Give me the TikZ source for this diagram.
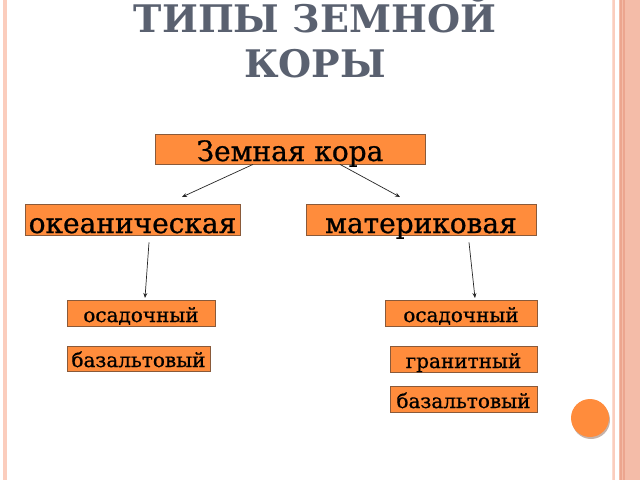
\documentclass[tikz,border=0pt]{standalone}
\usepackage{fontspec}
\setmainfont{DejaVu Serif}
\newfontfamily\boxfont{DejaVu Serif}[FakeBold=0.8]
\usetikzlibrary{arrows.meta}
\definecolor{boxfill}{HTML}{FF8C3C}
\definecolor{boxline}{HTML}{8A5A3A}
\definecolor{titlecol}{HTML}{5A6170}
\definecolor{bandlight}{HTML}{FBCDBD}
\definecolor{bandmid}{HTML}{F4BCA8}
\definecolor{banddark}{HTML}{ECA58E}
\definecolor{linepale}{HTML}{FCDCD0}
\definecolor{shadowcol}{HTML}{A08070}
\begin{document}
\begin{tikzpicture}[x=1pt,y=-1pt,
  box/.style={draw=boxline, line width=0.8pt, fill=boxfill, inner xsep=0pt, inner ysep=0pt, anchor=base, text=black},
  bigtext/.style={font=\boxfont\fontsize{28}{30}\selectfont, text height=29pt, text depth=2pt},
  smalltext/.style={font=\boxfont\fontsize{20}{22}\selectfont, text height=22pt, text depth=4pt},
  arr/.style={-{Stealth[length=5pt,width=4pt]}, line width=0.7pt, draw=black!85},
  titletext/.style={font=\fontsize{38}{40}\selectfont\bfseries, text=titlecol, anchor=base, inner sep=0pt}]
\useasboundingbox (0,0) rectangle (640,480);
\fill[white] (0,0) rectangle (640,480);
% frame
\fill[bandlight] (3,0) rectangle (7,480);
\fill[linepale] (611.7,0) rectangle (612.7,480);
\fill[bandlight] (613.3,0) rectangle (615,480);
\fill[bandmid] (618.5,0) rectangle (640,480);
\fill[banddark] (620,0) rectangle (621.5,480);
\fill[banddark] (623,0) rectangle (625,480);
% decorative circle
\fill[shadowcol, opacity=0.6] (591,420) circle (19);
\fill[boxfill] (590,418) circle (19);
% title
\node[titletext] (t1) at (315,32) {ТИПЫ ЗЕМНОЙ};
\node[titletext] (t2) at (315,77) {КОРЫ};
% boxes
\node[box, bigtext, text height=27pt, text depth=3pt, minimum width=270pt] (root) at (290,161) {Земная кора};
\node[box, bigtext, minimum width=215pt] (ocean) at (132.5,233) {океаническая};
\node[box, bigtext, minimum width=230pt] (cont) at (421,233) {материковая};
\node[box, smalltext, minimum width=148pt] (o1) at (141,322) {осадочный};
\node[box, smalltext, text height=21pt, minimum width=143pt] (o2) at (138.5,367) {базальтовый};
\node[box, smalltext, minimum width=152pt] (c1) at (461,322) {осадочный};
\node[box, smalltext, minimum width=147pt] (c2) at (463.5,368) {гранитный};
\node[box, smalltext, minimum width=147pt] (c3) at (463.5,408) {базальтовый};
% arrows
\coordinate (e1) at (182,197);
\coordinate (e2) at (400,197);
\coordinate (e3) at (145,298);
\coordinate (e4) at (475,298);
\draw[arr] ([xshift=-37pt]root.south) -- (e1);
\draw[arr] ([xshift=50pt]root.south) -- (e2);
\draw[arr] ([shift={(16.5pt,-7pt)}]ocean.south) -- (e3);
\draw[arr] ([shift={(48pt,-7pt)}]cont.south) -- (e4);
\end{tikzpicture}
\end{document}
